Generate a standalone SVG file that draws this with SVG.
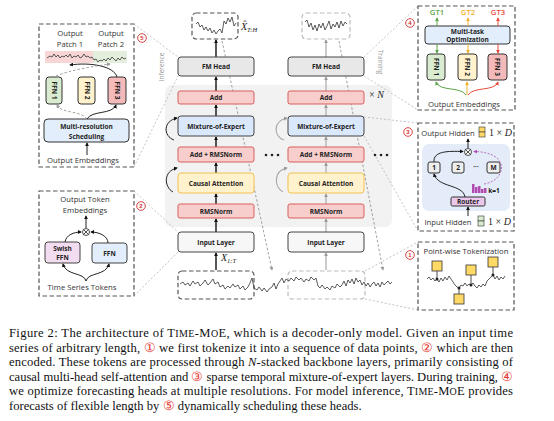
<svg xmlns="http://www.w3.org/2000/svg" width="554" height="421" viewBox="0 0 554 421">
<defs>
<style>
.lbl{font-family:"Open Sans","Liberation Sans",sans-serif;font-weight:700;font-size:6.5px;text-anchor:middle;fill:#222}
.txt{font-family:"Open Sans","Liberation Sans",sans-serif;font-size:7.7px;text-anchor:middle;fill:#333}
.side{font-family:"Open Sans","Liberation Sans",sans-serif;font-size:6.5px;text-anchor:middle;fill:#999}
.math{font-family:"Liberation Serif","Times New Roman",serif;font-size:10px;fill:#222}
.cap{font-family:"Liberation Serif","Times New Roman",serif;font-size:12.6px;fill:#111}
.red{fill:#f8cecc;stroke:#d95f5f;stroke-width:1}
.blue{fill:#dae8fc;stroke:#444;stroke-width:1}
.yel{fill:#fff2cc;stroke:#f2c14e;stroke-width:1}
.gry{fill:#e8e8e8;stroke:#444;stroke-width:1}
.wht{fill:#f7f7f7;stroke:#444;stroke-width:1}
.panel{fill:#fff;stroke:#555;stroke-width:1.2;stroke-dasharray:4.5 2.5}
.zl{fill:none;stroke:#aaa;stroke-width:0.7;stroke-dasharray:2 2}
.wave{fill:none;stroke:#333;stroke-width:0.8;stroke-linejoin:round}
.ab{fill:none;stroke:#111;stroke-width:1.4;marker-end:url(#mb)}
.ag{fill:none;stroke:#aaa;stroke-width:1.2;marker-end:url(#mg)}
.ad{fill:none;stroke:#888;stroke-width:0.8;stroke-dasharray:2.5 2;marker-end:url(#mg)}
.a1{fill:none;stroke:#222;stroke-width:1;marker-end:url(#mb)}
.num{fill:#fff;stroke:#d32f2f;stroke-width:0.9}
.numt{font-family:"Liberation Sans",sans-serif;font-size:6px;font-weight:700;fill:#d32f2f;text-anchor:middle}
</style>
<marker id="mb" viewBox="0 0 10 10" refX="8" refY="5" markerWidth="4" markerHeight="4" orient="auto" markerUnits="userSpaceOnUse"><path d="M0,0 L10,5 L0,10 z" fill="#111"/></marker>
<marker id="mg" viewBox="0 0 10 10" refX="8" refY="5" markerWidth="4" markerHeight="4" orient="auto" markerUnits="userSpaceOnUse"><path d="M0,0 L10,5 L0,10 z" fill="#999"/></marker>
<marker id="mgr" viewBox="0 0 10 10" refX="8" refY="5" markerWidth="4" markerHeight="4" orient="auto" markerUnits="userSpaceOnUse"><path d="M0,0 L10,5 L0,10 z" fill="#5aa545"/></marker>
<marker id="mor" viewBox="0 0 10 10" refX="8" refY="5" markerWidth="4" markerHeight="4" orient="auto" markerUnits="userSpaceOnUse"><path d="M0,0 L10,5 L0,10 z" fill="#f4b02c"/></marker>
<marker id="mrd" viewBox="0 0 10 10" refX="8" refY="5" markerWidth="4" markerHeight="4" orient="auto" markerUnits="userSpaceOnUse"><path d="M0,0 L10,5 L0,10 z" fill="#e84a3c"/></marker>
<marker id="mpu" viewBox="0 0 10 10" refX="8" refY="5" markerWidth="4" markerHeight="4" orient="auto" markerUnits="userSpaceOnUse"><path d="M0,0 L10,5 L0,10 z" fill="#b04bb0"/></marker>
</defs>
<rect width="554" height="421" fill="#fff"/>

<!-- backbone background -->
<rect x="165" y="85" width="227" height="142" rx="7" fill="#f2f2f2"/>

<!-- zoom lines -->
<g id="zoom-lines">
<path class="zl" d="M134,24 L178,57 M134,167 L178,76"/>
<path class="zl" d="M134,191 L178,232 M134,296 L178,252"/>
<path class="zl" d="M364,57 L418,6 M364,76 L418,110"/>
<path class="zl" d="M364,117 L418,123 M364,136 L418,231"/>
<path class="zl" d="M365,271 L418,242 M365,299 L418,310"/>
</g>

<!-- connectors -->
<g id="connectors">
<line class="ab" x1="216" y1="270" x2="216" y2="253"/>
<line class="ab" x1="216" y1="232" x2="216" y2="219"/>
<line class="ab" x1="216" y1="204" x2="216" y2="194"/>
<line class="ab" x1="216" y1="173" x2="216" y2="163"/>
<line class="ab" x1="216" y1="147" x2="216" y2="137"/>
<line class="ab" x1="216" y1="116" x2="216" y2="105"/>
<line class="ab" x1="216" y1="91" x2="216" y2="77"/>
<line class="ab" x1="216" y1="57" x2="216" y2="40"/>
<path class="a1" d="M174,140 C163,136 163,121 177,118" stroke-width="1.1"/>
<path class="a1" d="M173,192 C164,187 163,171 177,168" stroke-width="1.1"/>
<line class="ag" x1="326" y1="270" x2="326" y2="253"/>
<line class="ag" x1="326" y1="232" x2="326" y2="219"/>
<line class="ag" x1="326" y1="204" x2="326" y2="194"/>
<line class="ag" x1="326" y1="173" x2="326" y2="163"/>
<line class="ag" x1="326" y1="147" x2="326" y2="137"/>
<line class="ag" x1="326" y1="116" x2="326" y2="105"/>
<line class="ag" x1="326" y1="91" x2="326" y2="77"/>
<line class="ag" x1="326" y1="57" x2="326" y2="40"/>
<path class="ag" d="M284,140 C273,136 273,121 287,118" stroke-width="1"/>
<path class="ag" d="M283,192 C274,187 273,171 287,168" stroke-width="1"/>
<line class="ad" x1="222" y1="41" x2="272" y2="270"/>
<line class="ad" x1="339" y1="41" x2="383" y2="270"/>
</g>

<!-- main column nodes -->
<g id="out-left"><rect class="panel" x="192" y="13" width="46" height="26" rx="4"/>
<polyline class="wave" stroke-width="1" points="196,24 198,22 200,27 202,25 204,30 206,27 208,31 210,28 212,33 214,30 216,34 218,31 220,29 222,33 224,21 226,24 228,18 230,22 232,17 234,26 236,23"/></g>
<text class="math" x="241" y="30" font-style="italic">X̂<tspan font-size="6.5" dy="2">T:H</tspan></text>
<g id="out-right"><rect class="panel" x="302" y="13" width="48" height="26" rx="4" style="stroke:#bbb"/>
<polyline class="wave" stroke-width="1" points="305,22 307,20 309,27 311,23 313,30 315,25 317,31 319,24 321,28 323,23 325,30 327,26 329,21 331,29 333,24 335,27 337,22 339,28 341,21 343,26 345,22 347,24"/></g>

<g id="fm-head-l"><rect class="gry" x="178" y="57" width="76" height="19" rx="3"/><text class="lbl" x="216" y="69">FM Head</text></g>
<g id="add-l"><rect class="red" x="178" y="91" width="76" height="13" rx="2"/><text class="lbl" x="216" y="100">Add</text></g>
<g id="moe-l"><rect class="blue" x="178" y="116" width="76" height="20" rx="3"/><text class="lbl" x="216" y="128.5">Mixture-of-Expert</text></g>
<g id="addnorm-l"><rect class="red" x="178" y="147" width="76" height="15" rx="2"/><text class="lbl" x="216" y="157">Add + RMSNorm</text></g>
<g id="attn-l"><rect class="yel" x="178" y="173" width="76" height="20" rx="3"/><text class="lbl" x="216" y="185.5">Causal Attention</text></g>
<g id="norm-l"><rect class="red" x="178" y="204" width="76" height="14" rx="2"/><text class="lbl" x="216" y="213.5">RMSNorm</text></g>
<g id="input-l"><rect class="wht" x="178" y="232" width="76" height="20" rx="3"/><text class="lbl" x="216" y="244.5">Input Layer</text></g>

<g id="fm-head-r"><rect class="gry" x="288" y="57" width="76" height="19" rx="3"/><text class="lbl" x="326" y="69">FM Head</text></g>
<g id="add-r"><rect class="red" x="288" y="91" width="76" height="13" rx="2"/><text class="lbl" x="326" y="100">Add</text></g>
<g id="moe-r"><rect class="blue" x="288" y="116" width="76" height="20" rx="3"/><text class="lbl" x="326" y="128.5">Mixture-of-Expert</text></g>
<g id="addnorm-r"><rect class="red" x="288" y="147" width="76" height="15" rx="2"/><text class="lbl" x="326" y="157">Add + RMSNorm</text></g>
<g id="attn-r"><rect class="yel" x="288" y="173" width="76" height="20" rx="3"/><text class="lbl" x="326" y="185.5">Causal Attention</text></g>
<g id="norm-r"><rect class="red" x="288" y="204" width="76" height="14" rx="2"/><text class="lbl" x="326" y="213.5">RMSNorm</text></g>
<g id="input-r"><rect class="wht" x="288" y="232" width="76" height="20" rx="3"/><text class="lbl" x="326" y="244.5">Input Layer</text></g>

<g fill="#222"><circle cx="266" cy="155" r="1.3"/><circle cx="272" cy="155" r="1.3"/><circle cx="278" cy="155" r="1.3"/>
<circle cx="375" cy="155" r="1.3"/><circle cx="381" cy="155" r="1.3"/><circle cx="387" cy="155" r="1.3"/></g>
<text class="math" x="369" y="98">× <tspan font-style="italic">N</tspan></text>
<text class="side" transform="translate(164,67) rotate(-90)">Inference</text>
<text class="side" transform="translate(378,62) rotate(90)">Training</text>
<text class="math" x="221" y="261" font-style="italic">X<tspan font-size="6.5" dy="2">1:T</tspan></text>

<g id="input-series">
<rect class="panel" x="178" y="271" width="76" height="28" rx="4"/>
<rect class="panel" x="288" y="271" width="77" height="28" rx="4" style="stroke:#bbb;fill:none"/>
<polyline class="wave" points="180,284 183,282 185,285 188,283 190,286 193,281 195,284 198,282 200,286 203,283 205,280 208,285 210,283 213,279 215,284 218,282 220,287 223,285 225,289 228,286 230,288 233,284 235,287 238,285 240,289 243,286 245,290 248,287 250,283 252,278 254,288 257,290 259,287 262,291 264,288 267,292 269,289 272,287 274,283 276,289 278,284 280,281 282,278 284,283 286,279 289,281 291,278 294,281 296,277 299,280 301,278 304,282 306,279 309,281 311,277 314,280 316,278 318,286 320,288 322,285 325,289 327,287 330,290 332,286 335,288 337,284 340,287 342,285 344,281 346,286 348,280 350,283 352,279 354,284 356,278 358,282 360,280 362,285 364,282 366,286 368,283 370,287 372,284 374,282 376,286 378,283 380,287 382,282 384,285 386,283 388,281 390,284 392,282"/>
</g>

<!-- Panel 5: multi-resolution scheduling -->
<g id="panel-scheduling">
<rect class="panel" x="39" y="24" width="95" height="143"/>
<circle class="num" cx="142" cy="38" r="4.3"/><text class="numt" x="142" y="40.2">5</text>
<text class="txt" x="70" y="36">Output</text><text class="txt" x="70" y="47">Patch 1</text>
<text class="txt" x="111" y="36">Output</text><text class="txt" x="111" y="47">Patch 2</text>
<rect x="45" y="51" width="48" height="12" fill="#f9d6d6"/>
<rect x="93" y="51" width="34" height="12" fill="#e3efdc"/>
<polyline class="wave" points="47,58 50,56 52,57 54,54 56,57 58,55 60,58 62,56 64,57 66,55 68,57 70,54 72,58 74,56 76,57 78,55 80,58 82,57 84,54 86,57 88,56 90,58 92,57 94,60 96,59 98,62 100,60 102,61 104,59 106,61 108,58 110,60 112,57 114,59 116,61 118,58 120,60 122,57 124,59 126,58"/>
<rect x="46" y="77" width="16" height="27" rx="3" fill="#d9ecd0" stroke="#333"/>
<rect x="78" y="77" width="17" height="27" rx="3" fill="#fff2cc" stroke="#333"/>
<rect x="108" y="77" width="18" height="27" rx="3" fill="#f4b9b9" stroke="#333"/>
<text class="lbl" transform="translate(52,90.5) rotate(90)">FFN 1</text>
<text class="lbl" transform="translate(84.5,90.5) rotate(90)">FFN 2</text>
<text class="lbl" transform="translate(114.8,90.5) rotate(90)">FFN 3</text>
<rect x="44" y="119" width="85" height="23" rx="4" fill="#e2eefb" stroke="#333"/>
<text class="lbl" x="86.5" y="129" font-size="7">Multi-resolution</text>
<text class="lbl" x="86.5" y="138.5" font-size="7">Scheduling</text>
<text class="txt" x="83" y="163">Output Embeddings</text>
<line class="a1" x1="87" y1="155" x2="87" y2="143"/>
<path class="a1" d="M87,119 C92,110 112,115 116,105"/>
<path class="ad" d="M87,119 C80,110 62,114 57,105"/>
<path class="a1" d="M117,77 C114,66 90,62 70,65"/>
<path class="ad" d="M56,76 C70,70 95,66 110,64"/>
</g>

<!-- Panel 2: token embedding -->
<g id="panel-embedding">
<rect class="panel" x="39" y="191" width="95" height="105"/>
<circle class="num" cx="141" cy="206" r="4.3"/><text class="numt" x="141" y="208.2">2</text>
<text class="txt" x="85" y="202">Output Token</text>
<text class="txt" x="85" y="213">Embeddings</text>
<circle cx="86" cy="232" r="3.5" fill="#fff" stroke="#222" stroke-width="0.8"/>
<path d="M83.5,229.5 L88.5,234.5 M88.5,229.5 L83.5,234.5" stroke="#222" stroke-width="0.8"/>
<line class="a1" x1="86" y1="228" x2="86" y2="216" stroke-width="0.9"/>
<rect x="45" y="242" width="35" height="21" rx="3" fill="#f2dcef" stroke="#444"/>
<text class="lbl" x="62.5" y="251" font-size="6.8">Swish</text><text class="lbl" x="62.5" y="259.5" font-size="6.8">FFN</text>
<rect x="92" y="243" width="35" height="20" rx="3" fill="#e2eefb" stroke="#444"/>
<text class="lbl" x="109.5" y="255.5" font-size="6.8">FFN</text>
<path class="a1" d="M65,242 C66,235 74,232 81,232" stroke-width="0.9"/>
<path class="a1" d="M108,243 C108,236 99,232 91,232" stroke-width="0.9"/>
<path class="a1" d="M86,281 C84,272 66,276 63,264" stroke-width="0.9"/>
<path class="a1" d="M86,281 C88,272 106,276 109,264" stroke-width="0.9"/>
<text class="txt" x="82" y="290">Time Series Tokens</text>
</g>

<!-- Panel 4: multi-task optimization -->
<g id="panel-multitask">
<rect class="panel" x="418" y="6" width="97" height="104"/>
<circle class="num" cx="410" cy="23" r="4.3"/><text class="numt" x="410" y="25.2">4</text>
<text class="txt" x="437" y="15" style="fill:#5aa545;font-weight:600">GT1</text>
<text class="txt" x="468" y="15" style="fill:#f4b02c;font-weight:600">GT2</text>
<text class="txt" x="498" y="15" style="fill:#e84a3c;font-weight:600">GT3</text>
<rect x="425" y="26" width="85" height="18" rx="3" fill="#e2eefb" stroke="#333"/>
<text class="lbl" x="467.5" y="33.5" font-size="7">Multi-task</text>
<text class="lbl" x="467.5" y="42" font-size="7">Optimization</text>
<line x1="437" y1="26" x2="437" y2="18" stroke="#5aa545" stroke-width="1" marker-end="url(#mgr)"/>
<line x1="468" y1="26" x2="468" y2="18" stroke="#f4b02c" stroke-width="1" marker-end="url(#mor)"/>
<line x1="498" y1="26" x2="498" y2="18" stroke="#e84a3c" stroke-width="1" marker-end="url(#mrd)"/>
<line x1="437" y1="44" x2="437" y2="53" stroke="#5aa545" stroke-width="1" marker-end="url(#mgr)"/>
<line x1="468" y1="44" x2="468" y2="53" stroke="#f4b02c" stroke-width="1" marker-end="url(#mor)"/>
<line x1="498" y1="44" x2="498" y2="53" stroke="#e84a3c" stroke-width="1" marker-end="url(#mrd)"/>
<rect x="427" y="54" width="18" height="26" rx="3" fill="#d9ecd0" stroke="#333"/>
<rect x="458" y="54" width="19" height="26" rx="3" fill="#fff2cc" stroke="#333"/>
<rect x="488" y="54" width="19" height="26" rx="3" fill="#f4b9b9" stroke="#333"/>
<text class="lbl" transform="translate(433.7,67) rotate(90)">FFN 1</text>
<text class="lbl" transform="translate(465.2,67) rotate(90)">FFN 2</text>
<text class="lbl" transform="translate(495.2,67) rotate(90)">FFN 3</text>
<path d="M466,95 C460,86 440,92 436,82" fill="none" stroke="#5aa545" stroke-width="1" marker-end="url(#mgr)"/>
<line x1="467" y1="95" x2="467" y2="82" stroke="#f4b02c" stroke-width="1" marker-end="url(#mor)"/>
<path d="M468,95 C474,86 494,92 498,82" fill="none" stroke="#e84a3c" stroke-width="1" marker-end="url(#mrd)"/>
<text class="txt" x="464" y="107">Output Embeddings</text>
</g>

<!-- Panel 3: MoE detail -->
<g id="panel-moe">
<rect class="panel" x="418" y="123" width="96" height="108"/>
<circle class="num" cx="408" cy="132" r="4.3"/><text class="numt" x="408" y="134.2">3</text>
<text class="txt" x="448" y="136">Output Hidden</text>
<rect x="479" y="127" width="6" height="5" fill="#ffd966" stroke="#333" stroke-width="0.6"/>
<rect x="479" y="132" width="6" height="5" fill="#ffd966" stroke="#333" stroke-width="0.6"/>
<text class="math" x="489" y="136" font-size="7.8">1 × <tspan font-style="italic">D</tspan></text>
<rect x="422" y="144" width="88" height="67" rx="7" fill="#e3ecf8"/>
<circle cx="468" cy="152" r="3.5" fill="#fff" stroke="#222" stroke-width="0.8"/>
<path d="M465.5,149.5 L470.5,154.5 M470.5,149.5 L465.5,154.5" stroke="#222" stroke-width="0.8"/>
<line class="a1" x1="468" y1="148" x2="468" y2="139" stroke-width="0.9"/>
<rect x="428" y="162" width="12" height="11" rx="2" fill="#eee" stroke="#333"/><text class="lbl" x="434" y="170">1</text>
<rect x="452" y="162" width="12" height="11" rx="2" fill="#eee" stroke="#333"/><text class="lbl" x="458" y="170">2</text>
<text class="lbl" x="476" y="169">···</text>
<rect x="487" y="162" width="13" height="11" rx="2" fill="#eee" stroke="#333"/><text class="lbl" x="493.5" y="170">M</text>
<path class="a1" d="M434,162 C433,151 448,151 463,151.5" stroke-width="0.9"/>
<path class="a1" d="M465,197 C463,184 438,188 434,174" stroke-width="0.9"/>
<path d="M484,184 C506,181 512,152 474,151.5" fill="none" stroke="#b04bb0" stroke-width="0.8" stroke-dasharray="2 1.5" marker-end="url(#mpu)"/>
<g fill="#b04bb0"><rect x="472" y="184" width="2.5" height="9"/><rect x="475" y="187" width="2.5" height="6"/><rect x="478" y="186" width="2.5" height="7"/><rect x="481" y="189" width="2.5" height="4"/><rect x="484" y="188" width="2.5" height="5"/></g>
<text class="lbl" x="494" y="193" font-size="6">k=1</text>
<rect x="451" y="197" width="34" height="9" rx="1.5" fill="#ecc9ec" stroke="#333"/>
<text class="lbl" x="468" y="204" font-size="6">Router</text>
<line class="a1" x1="468" y1="216" x2="468" y2="207" stroke-width="0.9"/>
<text class="txt" x="448" y="225">Input Hidden</text>
<rect x="478" y="216" width="6" height="5" fill="#d9ecd0" stroke="#333" stroke-width="0.6"/>
<rect x="478" y="221" width="6" height="5" fill="#d9ecd0" stroke="#333" stroke-width="0.6"/>
<text class="math" x="488" y="225" font-size="7.8">1 × <tspan font-style="italic">D</tspan></text>
</g>

<!-- Panel 1: point-wise tokenization -->
<g id="panel-tokenization">
<rect class="panel" x="418" y="242" width="96" height="68"/>
<circle class="num" cx="410" cy="255" r="4.3"/><text class="numt" x="410" y="257.2">1</text>
<text class="txt" x="466" y="254">Point-wise Tokenization</text>
<polyline class="wave" points="427,279 429,277 431,280 433,278 435,281 437,279 439,282 441,278 443,281 445,277 447,280 449,276 451,279 453,282 455,285 457,287 459,288 461,285 463,286 465,283 467,286 469,284 471,285 473,283 475,286 477,288 479,285 481,287 483,284 485,286 487,281 489,279 491,277 493,275 495,279 497,276 499,280 501,277 503,279 505,276"/>
<g stroke="#222" stroke-width="0.8"><line x1="437" y1="271" x2="437" y2="279"/><line x1="471" y1="275" x2="471" y2="285"/><line x1="493" y1="267" x2="493" y2="275"/><line x1="459" y1="294" x2="459" y2="288"/></g>
<g fill="#222"><circle cx="437" cy="279" r="1.5"/><circle cx="471" cy="285" r="1.5"/><circle cx="493" cy="275" r="1.5"/><circle cx="459" cy="288" r="1.5"/></g>
<g fill="#ffd966" stroke="#333" stroke-width="0.8"><rect x="432" y="261" width="10" height="10"/><rect x="466" y="265" width="10" height="10"/><rect x="488" y="257" width="10" height="10"/><rect x="454" y="294" width="10" height="10"/></g>
</g>

<!-- caption -->
<g id="caption" class="cap">
<text x="9" y="337" textLength="504" lengthAdjust="spacing">Figure 2: The architecture of T<tspan font-size="10">IME</tspan>-M<tspan font-size="10">O</tspan>E, which is a decoder-only model. Given an input time</text>
<text x="9" y="351.6" textLength="504" lengthAdjust="spacing">series of arbitrary length, <tspan fill="#e53935">①</tspan> we first tokenize it into a sequence of data points, <tspan fill="#e53935">②</tspan> which are then</text>
<text x="9" y="366.2" textLength="504" lengthAdjust="spacing">encoded. These tokens are processed through <tspan font-style="italic">N</tspan>-stacked backbone layers, primarily consisting of</text>
<text x="9" y="380.8" textLength="504" lengthAdjust="spacing">causal multi-head self-attention and <tspan fill="#e53935">③</tspan> sparse temporal mixture-of-expert layers. During training, <tspan fill="#e53935">④</tspan></text>
<text x="9" y="395.4" textLength="504" lengthAdjust="spacing">we optimize forecasting heads at multiple resolutions. For model inference, T<tspan font-size="10">IME</tspan>-M<tspan font-size="10">O</tspan>E provides</text>
<text x="9" y="410">forecasts of flexible length by <tspan fill="#e53935">⑤</tspan> dynamically scheduling these heads.</text>
</g>
</svg>
